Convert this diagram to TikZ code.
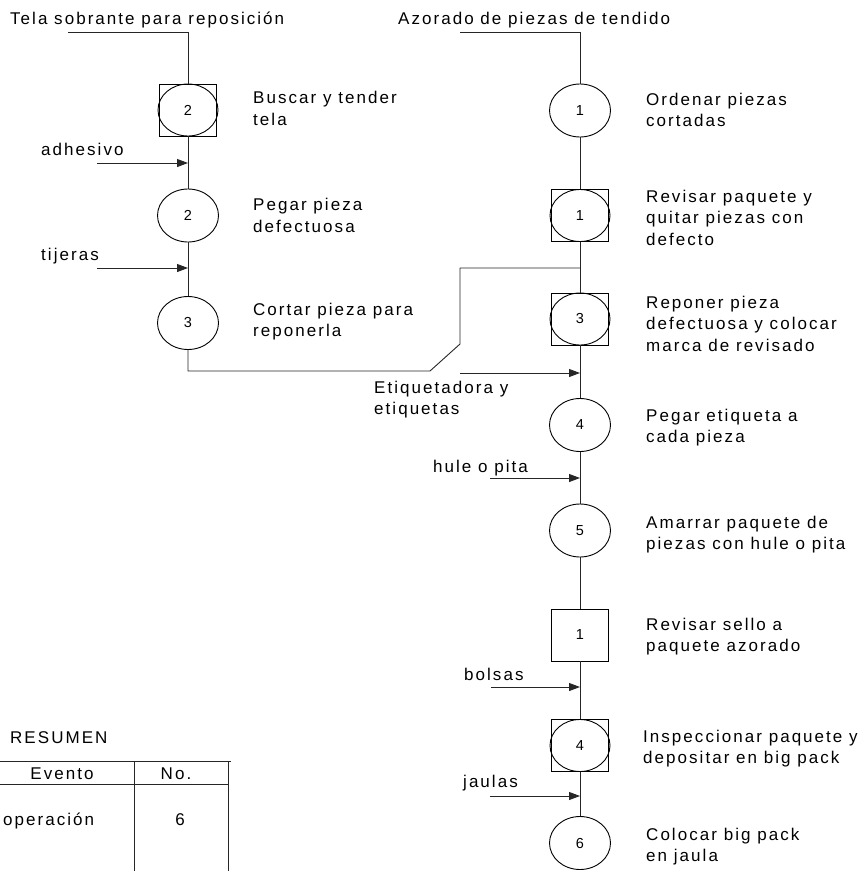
\documentclass[tikz,border=0pt]{standalone}
\usepackage{fontspec}
\newfontfamily\lblfont{Liberation Sans}[LetterSpace=12]
\newfontfamily\numfont{Liberation Sans}
\usetikzlibrary{shapes.geometric,arrows.meta}

\tikzset{
  flow/.style={line width=0.9pt, draw=black!85},
  feed/.style={flow, -{Triangle[length=11pt,width=8pt]}},
  % multi-line labels are placed at the baseline of their last line
  lbl/.style={anchor=base west, align=left, inner sep=0pt,
    font={\lblfont\fontsize{17}{21.5}\selectfont}},
  op/.style={ellipse, draw, line width=0.9pt, minimum width=61pt,
    minimum height=53pt, inner sep=0pt,
    font={\numfont\fontsize{14.5}{15}\selectfont}},
  insp/.style={rectangle, draw, line width=0.9pt, minimum width=57pt,
    minimum height=52pt, inner sep=0pt,
    font={\numfont\fontsize{14.5}{15}\selectfont}},
  ring/.style={ellipse, draw, line width=0.9pt, minimum width=60pt,
    minimum height=52pt, inner sep=0pt},
  tbl/.style={line width=0.9pt, draw=black!85}
}

\begin{document}
\begin{tikzpicture}[x=1pt, y=-1pt]
\useasboundingbox (0,0) rectangle (863,871);

% ---------------- left branch: replacement cloth ----------------
\node[lbl] (tTela) at (10,24) {Tela sobrante para reposici\'on};
\coordinate (inTela) at (68,32);

\node[insp] (lb2) at (188,110) {2};
\node[ring] (lb2e) at (188,110) {};
\node[lbl] (tlb2) at (253,125) {Buscar y tender\\tela};

\node[op] (le2) at (188,215.5) {2};
\node[lbl] (tle2) at (253,232) {Pegar pieza\\defectuosa};

\node[op] (le3) at (188,323) {3};
\node[lbl] (tle3) at (253,336.5) {Cortar pieza para\\reponerla};

\node[lbl] (tAdh) at (41,155) {adhesivo};
\coordinate (inAdh) at (97,163);
\node[lbl] (tTij) at (41,260) {tijeras};
\coordinate (inTij) at (97,268);

\draw[flow] (inTela) -| (lb2.north);
\draw[flow] (lb2.south) -- (le2.north);
\draw[flow] (le2.south) -- (le3.north);
\draw[feed] (inAdh) -- (inAdh -| lb2.south);
\draw[feed] (inTij) -- (inTij -| le2.south);

% ---------------- main branch ----------------
\node[lbl] (tAzo) at (398,24) {Azorado de piezas de tendido};
\coordinate (inAzo) at (460,32);

\node[op] (re1) at (580,110.5) {1};
\node[lbl] (tre1) at (646,126.5) {Ordenar piezas\\cortadas};

\node[insp] (rb1) at (580,215.5) {1};
\node[ring] (rb1e) at (580,215.5) {};
\node[lbl] (trb1) at (646,245) {Revisar paquete y\\quitar piezas con\\defecto};

\node[insp] (rb3) at (580,319) {3};
\node[ring] (rb3e) at (580,319) {};
\node[lbl] (trb3) at (646,351) {Reponer pieza\\defectuosa y colocar\\marca de revisado};

\node[op] (re4) at (580,425) {4};
\node[lbl] (tre4) at (646,442.5) {Pegar etiqueta a\\cada pieza};

\node[op] (re5) at (580,530.5) {5};
\node[lbl] (tre5) at (646,549.5) {Amarrar paquete de\\piezas con hule o pita};

\node[insp] (rs1) at (580,635) {1};
\node[lbl] (trs1) at (646,651.5) {Revisar sello a\\paquete azorado};

\node[insp] (rb4) at (580,745.5) {4};
\node[ring] (rb4e) at (580,745.5) {};
\node[lbl] (trb4) at (643,763.5) {Inspeccionar paquete y\\depositar en big pack};

\node[op] (re6) at (580,843) {6};
\node[lbl] (tre6) at (646,861.5) {Colocar big pack\\en jaula};

\draw[flow] (inAzo) -| (re1.north);
\draw[flow] (re1.south) -- (rb1.north);
\draw[flow] (rb1.south) -- (rb3.north);
\draw[flow] (rb3.south) -- (re4.north);
\draw[flow] (re4.south) -- (re5.north);
\draw[flow] (re5.south) -- (rs1.north);
\draw[flow] (rs1.south) -- (rb4.north);
\draw[flow] (rb4.south) -- (re6.north);

% replacement piece joins the main line
\coordinate (join) at (580,268);
\draw[flow] (le3.south) -- (188,371) -- (430,371) -- (460,344)
  -- (460,268) -- (join);

% material inputs on the main line
\node[lbl] (tEti) at (374,414.5) {Etiquetadora y\\etiquetas};
\coordinate (inEti) at (460,373);
\node[lbl] (tHule) at (433,472) {hule o pita};
\coordinate (inHule) at (490,478);
\node[lbl] (tBol) at (464,680) {bolsas};
\coordinate (inBol) at (491,687);
\node[lbl] (tJau) at (463,787) {jaulas};
\coordinate (inJau) at (490,796);

\draw[feed] (inEti) -- (inEti -| rb3.south);
\draw[feed] (inHule) -- (inHule -| re4.south);
\draw[feed] (inBol) -- (inBol -| rs1.south);
\draw[feed] (inJau) -- (inJau -| rb4.south);

% ---------------- summary table ----------------
\node[lbl] (tRes) at (10,743) {RESUMEN};
\draw[tbl] (0,761) -- (231,761);
\draw[tbl] (0,784) -- (228,784);
\draw[tbl] (134,761) -- (134,871);
\draw[tbl] (228,761) -- (228,871);
\node[lbl, anchor=base] (tEv) at (62,779) {Evento};
\node[lbl, anchor=base] (tNo) at (176,779) {No.};
\node[lbl] (tOpe) at (3,825) {operaci\'on};
\node[lbl, anchor=base] (tSeis) at (180,825) {6};
\end{tikzpicture}
\end{document}
